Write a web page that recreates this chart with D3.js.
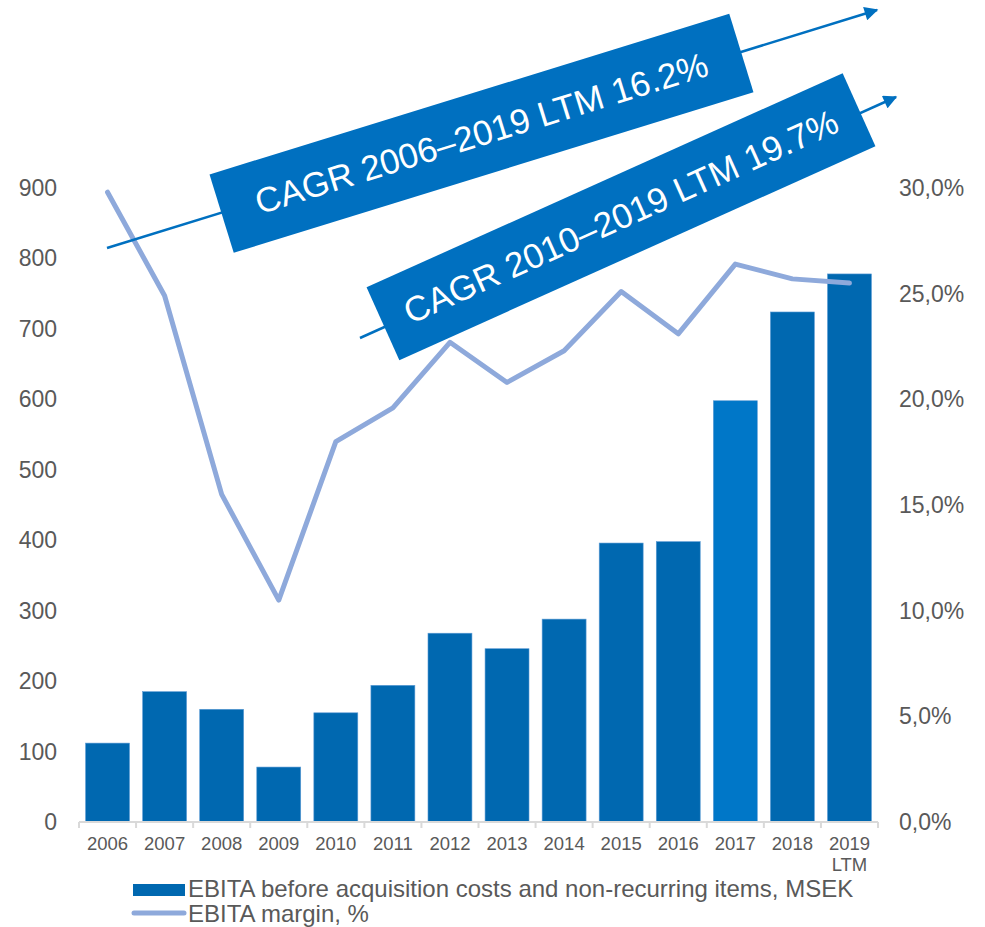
<!DOCTYPE html>
<html>
<head>
<meta charset="utf-8">
<script src="https://cdn.jsdelivr.net/npm/d3@7"></script>
<style>
  body { margin: 0; background: #fff; }
  text { font-family: "Liberation Sans", Arial, sans-serif; }
</style>
</head>
<body>
<svg id="board" width="985" height="927"></svg>
<script>
// Chart data
let years = ['2006', '2007', '2008', '2009', '2010', '2011', '2012', '2013', '2014', '2015', '2016', '2017', '2018', '2019']
let ebita = [112, 185, 160, 78, 155, 194, 268, 246, 288, 396, 398, 598, 724, 778]
let margin = [29.8, 24.9, 15.5, 10.5, 18.0, 19.6, 22.7, 20.8, 22.3, 25.1, 23.1, 26.4, 25.7, 25.5]
let leftTicks = [0, 100, 200, 300, 400, 500, 600, 700, 800, 900]
let rightTicks = [0, 5, 10, 15, 20, 25, 30]
let cagrLabels = ['CAGR 2006\u20132019 LTM 16.2%', 'CAGR 2010\u20132019 LTM 19.7%']
let legendLabels = ['EBITA before acquisition costs and non-recurring items, MSEK', 'EBITA margin, %']

let board = d3.select('#board')

// Scales
let xScale = d3.scaleBand().domain(years).range([79, 878]).paddingInner(0.23).paddingOuter(0.115)
let yLeft = d3.scaleLinear().domain([0, 900]).range([822, 188])
let yRight = d3.scaleLinear().domain([0, 30]).range([822, 188])

let textColor = '#595959'

// Bars
board.selectAll('rect.bar')
    .data(years)
    .enter()
    .append('rect')
    .attr('class', 'bar')
    .attr('x', (d) => xScale(d))
    .attr('width', xScale.bandwidth())
    .attr('y', (d, i) => yLeft(ebita[i]))
    .attr('height', (d, i) => yLeft(0) - yLeft(ebita[i]))
    .attr('fill', (d) => d === '2017' ? '#0077C8' : '#0068B0')
    .attr('stroke', '#5b9bd5')
    .attr('stroke-width', 0.6)

// X axis line and ticks
let step = xScale.step()
let xStart = xScale.range()[0]
board.append('line')
    .attr('x1', xStart).attr('x2', xScale.range()[1])
    .attr('y1', yLeft(0)).attr('y2', yLeft(0))
    .attr('stroke', '#D9D9D9').attr('stroke-width', 2)
board.selectAll('line.xtick')
    .data(d3.range(years.length + 1))
    .enter()
    .append('line')
    .attr('class', 'xtick')
    .attr('x1', (i) => xStart + i * step).attr('x2', (i) => xStart + i * step)
    .attr('y1', yLeft(0)).attr('y2', yLeft(0) + 6)
    .attr('stroke', '#D9D9D9').attr('stroke-width', 2)

// X labels
board.selectAll('text.xlab')
    .data(years)
    .enter()
    .append('text')
    .attr('class', 'xlab')
    .attr('x', (d) => xScale(d) + xScale.bandwidth() / 2)
    .attr('y', 850)
    .attr('text-anchor', 'middle')
    .attr('font-size', 18.5)
    .attr('fill', textColor)
    .text((d) => d)
board.append('text')
    .attr('x', xScale('2019') + xScale.bandwidth() / 2)
    .attr('y', 871)
    .attr('text-anchor', 'middle')
    .attr('font-size', 18.5)
    .attr('fill', textColor)
    .text('LTM')

// Left axis labels
board.selectAll('text.ylab')
    .data(leftTicks)
    .enter()
    .append('text')
    .attr('class', 'ylab')
    .attr('x', 57)
    .attr('y', (d) => yLeft(d) + 8)
    .attr('text-anchor', 'end')
    .attr('font-size', 23)
    .attr('fill', textColor)
    .text((d) => d)

// Right axis labels
board.selectAll('text.rlab')
    .data(rightTicks)
    .enter()
    .append('text')
    .attr('class', 'rlab')
    .attr('x', 899)
    .attr('y', (d) => yRight(d) + 8)
    .attr('text-anchor', 'start')
    .attr('font-size', 23)
    .attr('fill', textColor)
    .text((d) => d.toFixed(1).replace('.', ',') + '%')

// Margin line
let line = d3.line()
    .x((d, i) => xScale(years[i]) + xScale.bandwidth() / 2)
    .y((d) => yRight(d))
board.append('path')
    .datum(margin)
    .attr('d', line)
    .attr('fill', 'none')
    .attr('stroke', '#8EA9DB')
    .attr('stroke-width', 5)
    .attr('stroke-linejoin', 'round')
    .attr('stroke-linecap', 'round')

// CAGR annotations: arrow start/tip and box centre, size
let arrowFrom = [[107, 248], [360, 338]]
let arrowTo = [[877, 10], [896, 97]]
let boxCenter = [[481.5, 133.3], [621, 216.7]]
let boxSize = [[544, 82], [522, 80]]

let defs = board.append('defs')
defs.append('marker')
    .attr('id', 'head')
    .attr('viewBox', '0 0 10 10')
    .attr('refX', 9).attr('refY', 5)
    .attr('markerWidth', 6).attr('markerHeight', 5.5)
    .attr('markerUnits', 'strokeWidth')
    .attr('orient', 'auto')
    .append('path')
    .attr('d', 'M0,0 L10,5 L0,10 Z')
    .attr('fill', '#0070C0')

cagrLabels.forEach((label, i) => {
    let [x1, y1] = arrowFrom[i]
    let [x2, y2] = arrowTo[i]
    board.append('line')
        .attr('x1', x1).attr('y1', y1)
        .attr('x2', x2).attr('y2', y2)
        .attr('stroke', '#0070C0')
        .attr('stroke-width', 2.5)
        .attr('marker-end', 'url(#head)')
    let angle = Math.atan2(y2 - y1, x2 - x1) * 180 / Math.PI
    let g = board.append('g')
        .attr('transform', 'translate(' + boxCenter[i][0] + ',' + boxCenter[i][1] + ') rotate(' + angle + ')')
    g.append('rect')
        .attr('x', -boxSize[i][0] / 2).attr('y', -boxSize[i][1] / 2)
        .attr('width', boxSize[i][0]).attr('height', boxSize[i][1])
        .attr('fill', '#0070C0')
    g.append('text')
        .attr('x', 0).attr('y', 12)
        .attr('text-anchor', 'middle')
        .attr('font-size', 35)
        .attr('fill', '#fff')
        .text(label)
})

// Legend
board.append('rect')
    .attr('x', 133).attr('y', 884)
    .attr('width', 52).attr('height', 12)
    .attr('fill', '#0068B0')
board.append('text')
    .attr('x', 188).attr('y', 897)
    .attr('font-size', 24)
    .attr('fill', textColor)
    .text(legendLabels[0])
board.append('line')
    .attr('x1', 134).attr('x2', 184)
    .attr('y1', 913).attr('y2', 913)
    .attr('stroke', '#8EA9DB').attr('stroke-width', 5)
    .attr('stroke-linecap', 'round')
board.append('text')
    .attr('x', 188).attr('y', 922)
    .attr('font-size', 24)
    .attr('fill', textColor)
    .text(legendLabels[1])
</script>
</body>
</html>
